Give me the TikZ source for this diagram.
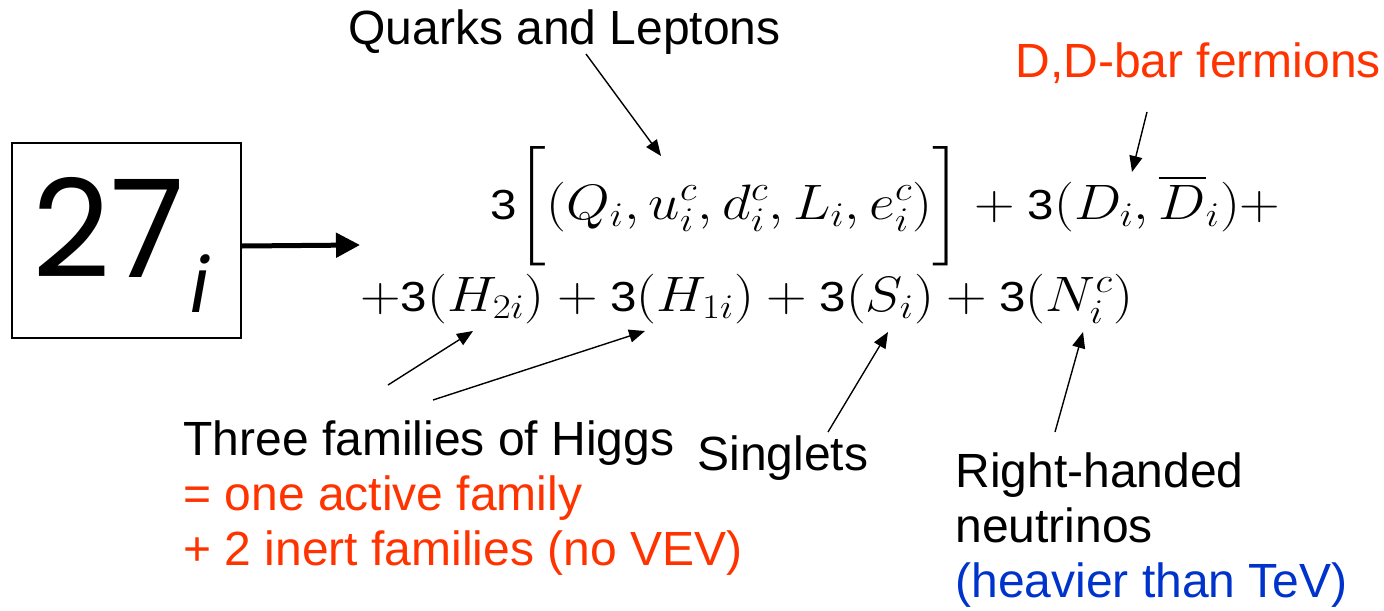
\documentclass[tikz,border=0pt]{standalone}
\usepackage[no-math]{fontspec}
\usepackage{amsmath}
\usepackage{graphicx}
\setmainfont{Liberation Sans}
\newfontfamily\arialf{Liberation Sans}
\newfontfamily\bigfont{Poppins}
\usetikzlibrary{arrows.meta}
\definecolor{lblred}{RGB}{255,51,0}
\definecolor{lblblue}{RGB}{0,51,204}
\newcommand{\thr}{\mbox{\arialf\fontsize{21}{21}\selectfont 3}}
\begin{document}
\begin{tikzpicture}[x=0.5pt,y=-0.5pt,
  lbl/.style={font=\fontsize{24}{28}\selectfont, inner sep=0pt, anchor=base west},
  eqn/.style={font=\fontsize{24}{28}\selectfont, inner sep=0pt, anchor=base west},
  ptr/.style={-{Triangle[length=8pt,width=6.5pt]}, line width=0.7pt},
  bigarr/.style={-{Triangle[length=12pt,width=12pt]}, line width=2.5pt}]
\useasboundingbox (0,0) rectangle (1384,610);
% box with 27_i
\node[draw, line width=1pt, minimum width=114.5pt, minimum height=97.5pt, anchor=north west, inner sep=0pt] (box) at (11,142) {};
\node[inner sep=0pt, anchor=base west, font=\bigfont\fontsize{68}{68}\selectfont] (num) at (32,277) {27};
\node[inner sep=0pt, anchor=base west, font=\bigfont\itshape\fontsize{38}{38}\selectfont] (sub) at (190,312) {i};
% equation
\node[eqn] (eq1) at (490,219) {\scalebox{1.13}[1]{$\thr\biggl[(Q_i, u_i^c, d_i^c, L_i, e_i^c)\biggr] + \thr(D_i, \overline{D}_i)+$}};
\node[eqn] (eq2) at (360,311) {\scalebox{1.13}[1]{$+\thr(H_{2i}) + \thr(H_{1i}) + \thr(S_i) + \thr(N_i^c)$}};
\coordinate (aend) at (360,245);
\draw[bigarr] ([yshift=-2.75pt]box.east) -- (aend);
% labels
\node[lbl] (ql) at (348,45) {Quarks and Leptons};
\node[lbl, text=lblred] (dd) at (1015,77) {D,D-bar fermions};
\node[lbl] (h1) at (183,455) {Three families of Higgs};
\node[lbl, text=lblred] (h2) at (183,510) {= one active family};
\node[lbl, text=lblred] (h3) at (183,565) {+ 2 inert families (no VEV)};
\node[lbl] (sg) at (697,470) {Singlets};
\node[lbl] (r1) at (955,487) {Right-handed};
\node[lbl] (r2) at (955,542) {neutrinos};
\node[lbl, text=lblblue] (r3) at (955,597) {(heavier than TeV)};
% arrow endpoints
\coordinate (qs) at (586,54);   \coordinate (qt) at (661,156);
\coordinate (ds) at (1147,112); \coordinate (dt) at (1132,172);
\coordinate (hs1) at (388,385); \coordinate (ht1) at (473,331);
\coordinate (hs2) at (433,400); \coordinate (ht2) at (645,331);
\coordinate (ss) at (828,432);  \coordinate (st) at (888,332);
\coordinate (ns) at (1055,432); \coordinate (nt) at (1083,332);
\draw[ptr] (qs) -- (qt);
\draw[ptr] (ds) -- (dt);
\draw[ptr] (hs1) -- (ht1);
\draw[ptr] (hs2) -- (ht2);
\draw[ptr] (ss) -- (st);
\draw[ptr] (ns) -- (nt);
\end{tikzpicture}
\end{document}
